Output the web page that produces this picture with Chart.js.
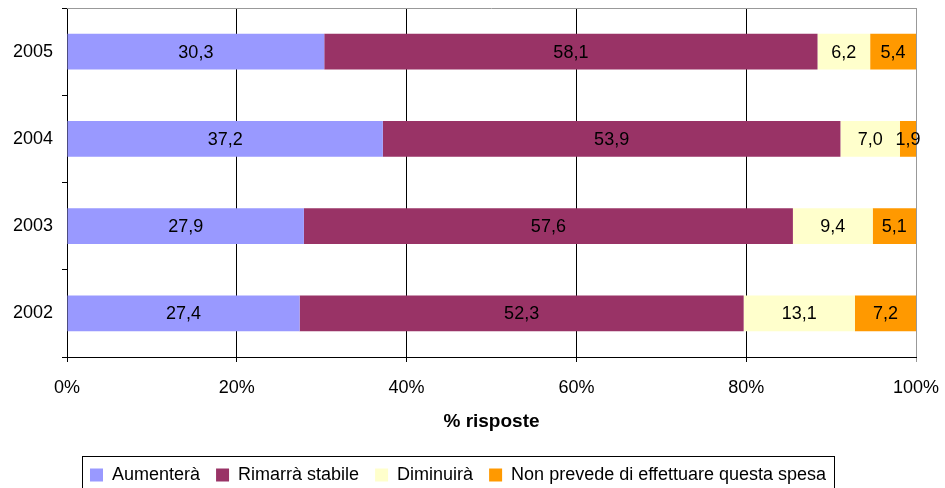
<!DOCTYPE html>
<html lang="it">
<head>
    <meta charset="UTF-8">
    <title>% risposte</title>
    <style>
        body { margin: 0; background: #fff; }
    </style>
</head>
<body>
    <canvas id="spesa" width="945" height="488"></canvas>

    <script src="https://cdn.jsdelivr.net/npm/chart.js/dist/chart.umd.min.js"></script>
    <script>
        // anni, dal piu recente in alto
        const anni = ['2005', '2004', '2003', '2002'];

        const aumentera = [30.3, 37.2, 27.9, 27.4];
        const rimarraStabile = [58.1, 53.9, 57.6, 52.3];
        const diminuira = [6.2, 7.0, 9.4, 13.1];
        const nonPrevede = [5.4, 1.9, 5.1, 7.2];

        const xTicks = [0, 20, 40, 60, 80, 100];

        const FONT = "'Liberation Sans', Arial, sans-serif";
        Chart.defaults.font.family = FONT;
        Chart.defaults.font.size = 18;
        Chart.defaults.color = '#000';

        // valori scritti dentro ogni segmento, con la virgola decimale
        const valueLabels = {
            id: 'valueLabels',
            afterDatasetsDraw(chart) {
                const { ctx } = chart;
                ctx.save();
                ctx.font = '18px ' + FONT;
                ctx.fillStyle = '#000';
                ctx.textAlign = 'center';
                ctx.textBaseline = 'middle';
                chart.data.datasets.forEach((ds, i) => {
                    chart.getDatasetMeta(i).data.forEach((bar, j) => {
                        const x = (bar.x + bar.base) / 2;
                        ctx.fillText(ds.data[j].toFixed(1).replace('.', ','), x, bar.y + 1);
                    });
                });
                ctx.restore();
            }
        };

        // bordo grigio in alto e cornice attorno alla legenda
        const frames = {
            id: 'frames',
            beforeDatasetsDraw(chart) {
                const { ctx, chartArea } = chart;
                ctx.save();
                ctx.strokeStyle = '#999';
                ctx.lineWidth = 1;
                ctx.beginPath();
                ctx.moveTo(chartArea.left, chartArea.top + 0.5);
                ctx.lineTo(chartArea.right, chartArea.top + 0.5);
                ctx.stroke();
                ctx.restore();
            },
            afterDraw(chart) {
                const boxes = chart.legend.legendHitBoxes;
                if (!boxes || !boxes.length) return;
                const first = boxes[0];
                const last = boxes[boxes.length - 1];
                const { ctx } = chart;
                ctx.save();
                ctx.strokeStyle = '#000';
                ctx.lineWidth = 1;
                const left = Math.round(first.left) - 7.5;
                const right = Math.round(last.left + last.width) + 8.5;
                const top = Math.round(first.top) - 9.5;
                ctx.strokeRect(left, top, right - left, 40);
                ctx.restore();
            }
        };

        const chart = new Chart(document.getElementById('spesa'), {
            type: 'bar',
            data: {
                labels: anni,
                datasets: [
                    { label: 'Aumenterà', data: aumentera, backgroundColor: '#9999FF' },
                    { label: 'Rimarrà stabile', data: rimarraStabile, backgroundColor: '#993366' },
                    { label: 'Diminuirà', data: diminuira, backgroundColor: '#FFFFCC' },
                    { label: 'Non prevede di effettuare questa spesa', data: nonPrevede, backgroundColor: '#FF9900' }
                ]
            },
            options: {
                indexAxis: 'y',
                responsive: false,
                animation: false,
                barPercentage: 0.41,
                categoryPercentage: 1,
                layout: {
                    padding: { top: 8, left: 0, right: 29, bottom: -6 }
                },
                scales: {
                    x: {
                        stacked: true,
                        min: 0,
                        max: 100,
                        afterBuildTicks: (scale) => {
                            scale.ticks = xTicks.map(v => ({ value: v }));
                        },
                        afterFit: (scale) => {
                            scale.height = 93;
                            scale.paddingLeft = 0;
                            scale.paddingRight = 0;
                        },
                        ticks: {
                            padding: 15,
                            callback: (v) => v + '%'
                        },
                        grid: {
                            color: (c) => c.tick && c.tick.value === 100 ? '#999' : '#000',
                            tickLength: 5,
                            lineWidth: 1
                        },
                        border: { color: '#000' },
                        title: {
                            display: true,
                            text: '% risposte',
                            font: { size: 19, weight: 'bold' },
                            padding: { top: 0, bottom: 17 }
                        }
                    },
                    y: {
                        stacked: true,
                        afterFit: (scale) => {
                            scale.width = 67;
                            scale.paddingTop = 0;
                            scale.paddingBottom = 0;
                        },
                        ticks: { padding: 9 },
                        grid: {
                            drawOnChartArea: false,
                            tickLength: 5,
                            color: '#000'
                        },
                        border: { color: '#000' }
                    }
                },
                plugins: {
                    legend: {
                        position: 'bottom',
                        labels: {
                            boxWidth: 13,
                            boxHeight: 13,
                            padding: 16,
                            font: { size: 18 }
                        }
                    },
                    tooltip: { enabled: false }
                }
            },
            plugins: [valueLabels, frames]
        });
    </script>
</body>
</html>
